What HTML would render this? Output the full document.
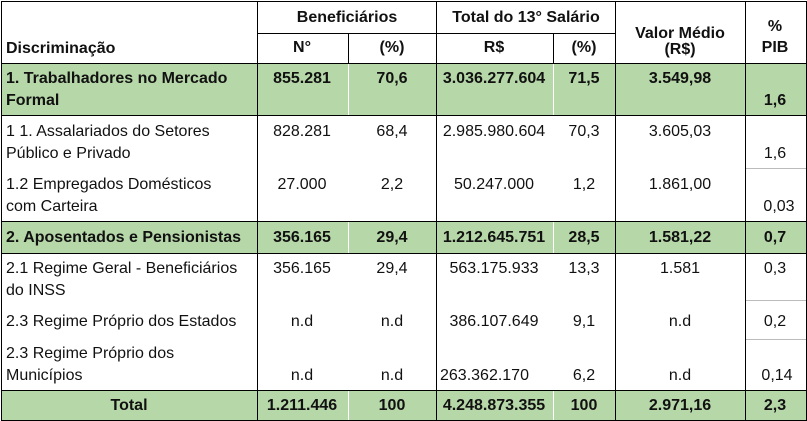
<!DOCTYPE html>
<html><head><meta charset="utf-8"><style>
body{margin:0;width:807px;height:421px;background:#fff;position:relative;overflow:hidden;font-family:"Liberation Sans",Arial,sans-serif;font-size:16px;color:#111}
.g{position:absolute;background:#b6d7a8}
.v{position:absolute;width:1px;background:#000}
.w{position:absolute;width:1px;background:#fff}
.h{position:absolute;height:1px;background:#000}
.hg{position:absolute;height:1px;background:#bbb}
.t{position:absolute;line-height:18px;white-space:nowrap;margin-top:1px}
.c{transform:translateX(-50%)}
.b{font-weight:bold}
</style></head><body>
<div class="g" style="left:1px;top:63px;width:805px;height:52px"></div>
<div class="g" style="left:1px;top:221px;width:805px;height:32px"></div>
<div class="g" style="left:1px;top:390px;width:805px;height:30px"></div>
<div class="h" style="left:1px;top:1px;width:806px"></div>
<div class="h" style="left:1px;top:420px;width:806px"></div>
<div class="v" style="left:1px;top:1px;height:420px"></div>
<div class="v" style="left:806px;top:1px;height:420px"></div>
<div class="h" style="left:257px;top:33px;width:358px"></div>
<div class="h" style="left:1px;top:63px;width:806px"></div>
<div class="h" style="left:1px;top:115px;width:806px"></div>
<div class="h" style="left:1px;top:221px;width:806px"></div>
<div class="h" style="left:1px;top:253px;width:806px"></div>
<div class="h" style="left:1px;top:390px;width:806px"></div>
<div class="hg" style="left:745px;top:168px;width:61px"></div>
<div class="hg" style="left:745px;top:300px;width:61px"></div>
<div class="hg" style="left:745px;top:339px;width:61px"></div>
<div class="v" style="left:257px;top:1px;height:420px"></div>
<div class="v" style="left:436px;top:1px;height:420px"></div>
<div class="v" style="left:615px;top:1px;height:420px"></div>
<div class="v" style="left:745px;top:1px;height:420px"></div>
<div class="v" style="left:348px;top:33px;height:30px"></div>
<div class="v" style="left:553px;top:33px;height:30px"></div>
<div class="w" style="left:348px;top:64px;height:51px"></div>
<div class="w" style="left:553px;top:64px;height:51px"></div>
<div class="w" style="left:348px;top:222px;height:31px"></div>
<div class="w" style="left:553px;top:222px;height:31px"></div>
<div class="w" style="left:348px;top:391px;height:29px"></div>
<div class="w" style="left:553px;top:391px;height:29px"></div>
<div class="t b c" style="left:347px;top:8px">Beneficiários</div>
<div class="t b c" style="left:526px;top:8px">Total do 13° Salário</div>
<div class="t b c" style="left:680px;top:24px">Valor Médio</div>
<div class="t b c" style="left:680px;top:40px">(R$)</div>
<div class="t b c" style="left:775px;top:17px">%</div>
<div class="t b c" style="left:775px;top:38px">PIB</div>
<div class="t b" style="left:6px;top:39px">Discriminação</div>
<div class="t b c" style="left:302px;top:38px">N°</div>
<div class="t b c" style="left:392px;top:38px">(%)</div>
<div class="t b c" style="left:494px;top:38px">R$</div>
<div class="t b c" style="left:584px;top:38px">(%)</div>
<div class="t b" style="left:6px;top:69px">1. Trabalhadores no Mercado</div>
<div class="t b" style="left:6px;top:91px">Formal</div>
<div class="t b c" style="left:302px;top:69px">855.281</div>
<div class="t b c" style="left:392px;top:69px">70,6</div>
<div class="t b c" style="left:494px;top:69px">3.036.277.604</div>
<div class="t b c" style="left:584px;top:69px">71,5</div>
<div class="t b c" style="left:680px;top:69px">3.549,98</div>
<div class="t b c" style="left:775px;top:91px">1,6</div>
<div class="t" style="left:6px;top:122px">1 1. Assalariados do Setores</div>
<div class="t" style="left:6px;top:144px">Público e Privado</div>
<div class="t c" style="left:302px;top:122px">828.281</div>
<div class="t c" style="left:392px;top:122px">68,4</div>
<div class="t c" style="left:494px;top:122px">2.985.980.604</div>
<div class="t c" style="left:584px;top:122px">70,3</div>
<div class="t c" style="left:680px;top:122px">3.605,03</div>
<div class="t c" style="left:775px;top:144px">1,6</div>
<div class="t" style="left:6px;top:175px">1.2 Empregados Domésticos</div>
<div class="t" style="left:6px;top:197px">com Carteira</div>
<div class="t c" style="left:302px;top:175px">27.000</div>
<div class="t c" style="left:392px;top:175px">2,2</div>
<div class="t c" style="left:494px;top:175px">50.247.000</div>
<div class="t c" style="left:584px;top:175px">1,2</div>
<div class="t c" style="left:680px;top:175px">1.861,00</div>
<div class="t c" style="left:779px;top:197px">0,03</div>
<div class="t b" style="left:6px;top:228px">2. Aposentados e Pensionistas</div>
<div class="t b c" style="left:302px;top:228px">356.165</div>
<div class="t b c" style="left:392px;top:228px">29,4</div>
<div class="t b c" style="left:494px;top:228px">1.212.645.751</div>
<div class="t b c" style="left:584px;top:228px">28,5</div>
<div class="t b c" style="left:680px;top:228px">1.581,22</div>
<div class="t b c" style="left:775px;top:228px">0,7</div>
<div class="t" style="left:6px;top:259px">2.1 Regime Geral - Beneficiários</div>
<div class="t" style="left:6px;top:281px">do INSS</div>
<div class="t c" style="left:302px;top:259px">356.165</div>
<div class="t c" style="left:392px;top:259px">29,4</div>
<div class="t c" style="left:494px;top:259px">563.175.933</div>
<div class="t c" style="left:584px;top:259px">13,3</div>
<div class="t c" style="left:680px;top:259px">1.581</div>
<div class="t c" style="left:775px;top:259px">0,3</div>
<div class="t" style="left:6px;top:312px">2.3 Regime Próprio dos Estados</div>
<div class="t c" style="left:302px;top:312px">n.d</div>
<div class="t c" style="left:392px;top:312px">n.d</div>
<div class="t c" style="left:494px;top:312px">386.107.649</div>
<div class="t c" style="left:584px;top:312px">9,1</div>
<div class="t c" style="left:680px;top:312px">n.d</div>
<div class="t c" style="left:775px;top:312px">0,2</div>
<div class="t" style="left:6px;top:344px">2.3 Regime Próprio dos</div>
<div class="t" style="left:6px;top:366px">Municípios</div>
<div class="t c" style="left:302px;top:366px">n.d</div>
<div class="t c" style="left:392px;top:366px">n.d</div>
<div class="t" style="left:440px;top:366px">263.362.170</div>
<div class="t c" style="left:584px;top:366px">6,2</div>
<div class="t c" style="left:680px;top:366px">n.d</div>
<div class="t c" style="left:777px;top:366px">0,14</div>
<div class="t b c" style="left:129px;top:396px">Total</div>
<div class="t b c" style="left:302px;top:396px">1.211.446</div>
<div class="t b c" style="left:392px;top:396px">100</div>
<div class="t b c" style="left:494px;top:396px">4.248.873.355</div>
<div class="t b c" style="left:584px;top:396px">100</div>
<div class="t b c" style="left:680px;top:396px">2.971,16</div>
<div class="t b c" style="left:775px;top:396px">2,3</div>
</body></html>
